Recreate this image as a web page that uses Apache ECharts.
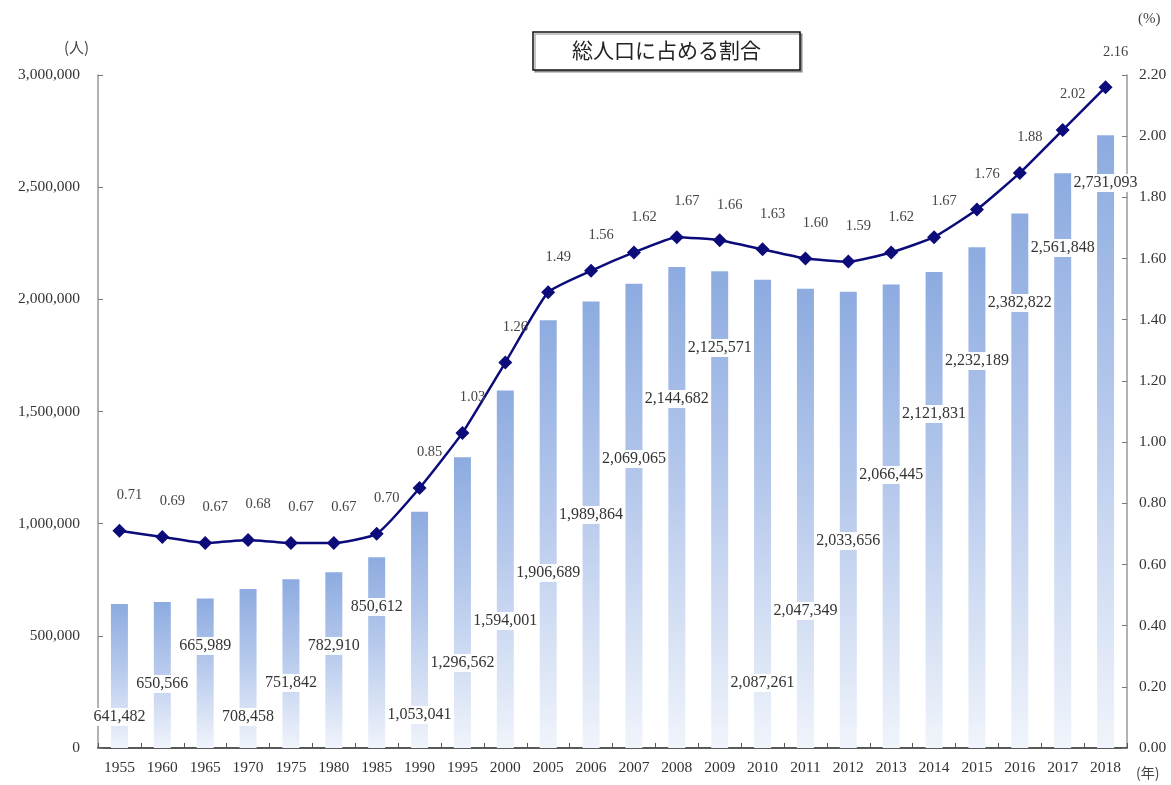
<!DOCTYPE html>
<html><head><meta charset="utf-8">
<script src="https://cdn.jsdelivr.net/npm/echarts@6/dist/echarts.min.js"></script>
<style>html,body{margin:0;padding:0;background:#fff}#c{width:1171px;height:785px}</style>
</head><body><div id="c"></div>
<script>
const years = ['1955','1960','1965','1970','1975','1980','1985','1990','1995','2000','2005','2006','2007','2008','2009','2010','2011','2012','2013','2014','2015','2016','2017','2018'];
const population = [641482,650566,665989,708458,751842,782910,850612,1053041,1296562,1594001,1906689,1989864,2069065,2144682,2125571,2087261,2047349,2033656,2066445,2121831,2232189,2382822,2561848,2731093];
const share = [0.71,0.69,0.67,0.68,0.67,0.67,0.70,0.85,1.03,1.26,1.49,1.56,1.62,1.67,1.66,1.63,1.60,1.59,1.62,1.67,1.76,1.88,2.02,2.16];
// label placement (pixels above the x axis) – layout only
const labelLift = [32,65,103,32,66,103,142,34,86,128,176,234,290,350,401,66,138,208,274,335,388,446,501,566];

const serif = '"Liberation Serif","DejaVu Serif",serif';
const fmt = v => v.toString().replace(/\B(?=(\d{3})+(?!\d))/g, ',');

const chart = echarts.init(document.getElementById('c'), null, {renderer:'canvas'});
chart.setOption({
  animation:false,
  backgroundColor:'#fff',
  title:{
    text:'総人口に占める割合',
    left:533, top:32,
    padding:[8,39,9,39],
    borderColor:'#111', borderWidth:1.5,
    shadowColor:'rgba(0,0,0,0.3)', shadowOffsetX:2, shadowOffsetY:2, shadowBlur:0,
    backgroundColor:'#fff',
    textStyle:{fontFamily:'"Noto Sans CJK JP"', fontSize:21, fontWeight:'normal', color:'#222'}
  },
  graphic:[
    {type:'text', left:64, top:40, style:{text:'(人)', font:'15px "Noto Sans CJK JP"', fill:'#444'}},
    {type:'text', left:1138, top:12, style:{text:'(%)', font:'15px '+serif, fill:'#444'}},
    {type:'text', left:1136, top:766, style:{text:'(年)', font:'14px "Noto Sans CJK JP"', fill:'#444'}}
  ],
  grid:{left:98, right:44, top:75, bottom:37},
  xAxis:{
    type:'category', data:years, boundaryGap:true,
    axisLine:{lineStyle:{color:'#222', width:1.5}},
    axisTick:{show:true, inside:true, length:5, lineStyle:{color:'#555'}},
    axisLabel:{fontFamily:serif, fontSize:15.5, color:'#333', margin:12, interval:0}
  },
  yAxis:[
    {type:'value', min:0, max:3000000, interval:500000,
     axisLine:{show:true, lineStyle:{color:'#999', width:1.5}},
     axisTick:{show:true, inside:true, length:5, lineStyle:{color:'#777'}},
     splitLine:{show:false},
     axisLabel:{fontFamily:serif, fontSize:15.5, color:'#333', margin:18, formatter:v=>fmt(v)}},
    {type:'value', min:0, max:2.2, interval:0.2,
     axisLine:{show:true, lineStyle:{color:'#999', width:1.5}},
     axisTick:{show:true, inside:true, length:5, lineStyle:{color:'#777'}},
     splitLine:{show:false},
     axisLabel:{fontFamily:serif, fontSize:15.5, color:'#333', margin:12, formatter:v=>v.toFixed(2)}}
  ],
  series:[
    {
      type:'bar', yAxisIndex:0, barWidth:17, z:2,
      itemStyle:{color:new echarts.graphic.LinearGradient(0,0,0,1,[
        {offset:0, color:'#8dabe0'},{offset:0.45, color:'#b6c9ec'},{offset:1, color:'#f0f4fb'}])},
      data:population.map((v,i)=>({value:v, label:{distance:labelLift[i]-10}})),
      label:{show:true, position:'insideBottom', formatter:p=>fmt(p.value),
        fontFamily:serif, fontSize:16, color:'#333',
        backgroundColor:'rgba(255,255,255,0.96)', padding:[1,2], borderRadius:4},
      labelLayout:{hideOverlap:false}
    },
    {
      type:'line', yAxisIndex:1, data:share, z:5,
      smooth:0.15,
      symbol:'diamond', symbolSize:14,
      lineStyle:{color:'#0b0b7a', width:2.5},
      itemStyle:{color:'#0b0b7a'},
      label:{show:true, position:'top', distance:5, offset:[10,-16],
        formatter:p=>p.value.toFixed(2), fontFamily:serif, fontSize:14.5, color:'#444'}
    }
  ]
});
</script></body></html>
